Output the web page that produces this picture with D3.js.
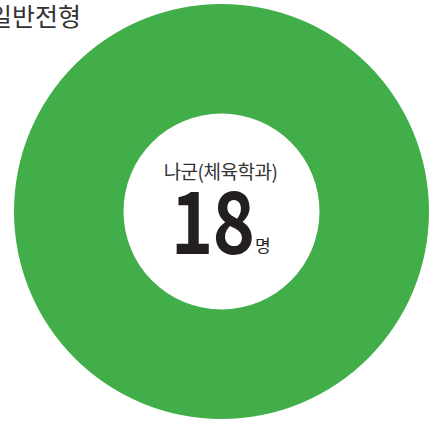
<!DOCTYPE html>
<html><head><meta charset="utf-8">
<script src="https://cdn.jsdelivr.net/npm/d3@7"></script>
<style>html,body{margin:0;padding:0;background:#fff;overflow:hidden}</style>
</head><body>
<svg id="chart" width="435" height="421"></svg>
<script>
const title = "일반전형";
const categories = ["나군(체육학과)"];
const values = [18];
const unit = "명";
const colors = ["#41ae4a"];

const svg = d3.select("#chart");
const cx = 221.5, cy = 211.5, outerR = 207.5, innerR = 98;
const g = svg.append("g").attr("transform", `translate(${cx},${cy})`);
const pie = d3.pie().sort(null)(values);
const arc = d3.arc().innerRadius(innerR).outerRadius(outerR);
g.selectAll("path").data(pie).enter().append("path")
  .attr("d", arc).attr("fill", (d,i) => colors[i]);

svg.append("text").attr("x", 81).attr("y", 26).attr("text-anchor", "end")
  .attr("font-family", "Noto Sans CJK KR").attr("font-size", 25).attr("fill", "#333")
  .text(title);

g.append("text").attr("x", -1).attr("y", -33).attr("text-anchor", "middle")
  .attr("font-family", "Noto Sans CJK KR").attr("font-size", 19).attr("fill", "#333")
  .attr("letter-spacing", -0.5)
  .text(categories[0]);

g.append("text").attr("transform", "translate(-9,42) scale(0.84,1)").attr("text-anchor", "middle")
  .attr("font-family", "Noto Sans CJK KR").attr("fill", "#231f20")
  .attr("font-size", 86).attr("font-weight", 700).attr("letter-spacing", -1)
  .text(values[0]);
g.append("text").attr("x", 33.5).attr("y", 40).attr("text-anchor", "start")
  .attr("font-family", "Noto Sans CJK KR").attr("fill", "#231f20")
  .attr("font-size", 17).text(unit);
</script>
</body></html>
